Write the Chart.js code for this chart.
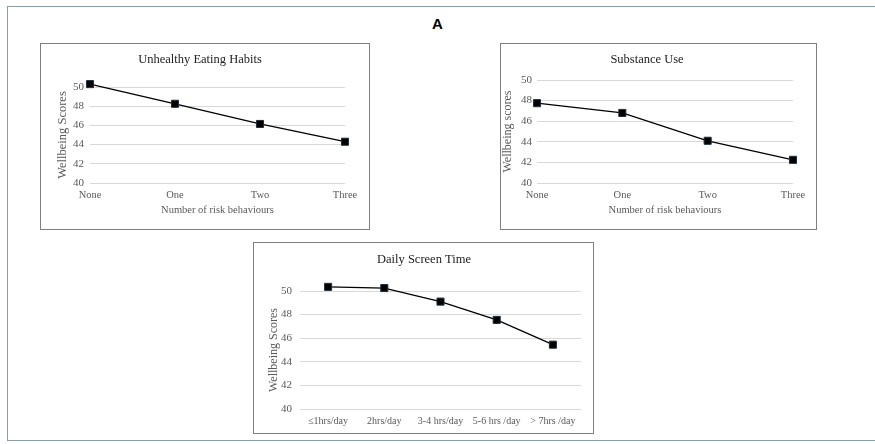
<!DOCTYPE html>
<html>
<head>
<meta charset="utf-8">
<script src="https://cdn.jsdelivr.net/npm/chart.js@4"></script>
<style>
  body { margin: 0; background: #fff; width: 875px; height: 444px; overflow: hidden; position: relative; }
  #frame { position: absolute; left: 7px; top: 6px; width: 880px; height: 435px; border: 1.5px solid #8a9cab; box-sizing: border-box; }
  #bigTitle { position: absolute; left: 0; width: 875px; top: 15px; text-align: center; font: bold 15px "Liberation Sans", Arial, sans-serif; color: #000; }
  .box { position: absolute; border: 1px solid #7f7f7f; background: #fff; }
  .box canvas { display: block; }
</style>
</head>
<body>
<div id="frame"></div>
<div id="bigTitle">A</div>
<div class="box" style="left:40px;top:43px;width:328px;height:185px;"><canvas id="c1" width="328" height="185"></canvas></div>
<div class="box" style="left:500px;top:43px;width:315px;height:185px;"><canvas id="c2" width="315" height="185"></canvas></div>
<div class="box" style="left:253px;top:242px;width:339px;height:190px;"><canvas id="c3" width="339" height="190"></canvas></div>
<script>
// data
var riskLabels = ['None', 'One', 'Two', 'Three'];
var eatingScores = [50.3, 48.25, 46.15, 44.3];
var substanceScores = [47.75, 46.8, 44.1, 42.25];
var screenLabels = ['\u22641hrs/day', '2hrs/day', '3-4 hrs/day', '5-6 hrs /day', '> 7hrs /day'];
var screenScores = [50.35, 50.25, 49.1, 47.55, 45.45];

var serif = '"Liberation Serif", "Times New Roman", serif';
var grey = '#595959';

function makeChart(id, title, labels, values, opts) {
  var ctx = document.getElementById(id).getContext('2d');
  return new Chart(ctx, {
    type: 'line',
    data: {
      labels: labels,
      datasets: [{
        data: values,
        borderColor: '#000',
        borderWidth: 1.3,
        pointStyle: 'rect',
        pointRadius: 5,
        pointBackgroundColor: '#000',
        pointBorderColor: '#1f2d3d',
        pointBorderWidth: 1,
        tension: 0,
        clip: false
      }]
    },
    options: {
      responsive: false,
      animation: false,
      events: [],
      layout: { padding: opts.padding },
      plugins: {
        legend: { display: false },
        tooltip: { enabled: false },
        title: {
          display: true,
          text: title,
          color: '#222',
          font: { family: serif, size: 12.5, weight: 'normal' },
          padding: opts.titlePad
        }
      },
      scales: {
        x: {
          offset: opts.offset,
          grid: { display: false, drawTicks: false },
          border: { display: false },
          ticks: { color: grey, font: { family: serif, size: opts.xTick }, padding: 6, maxRotation: 0, autoSkip: false },
          title: {
            display: !!opts.xTitle,
            text: opts.xTitle || '',
            color: grey,
            font: { family: serif, size: 10.5 },
            padding: { top: 2, bottom: 12 }
          },
          afterFit: function(s) { s.height = opts.xHeight; }
        },
        y: {
          min: 40,
          max: 50,
          grid: { color: '#d9d9d9', drawTicks: false, lineWidth: 1 },
          border: { display: false },
          ticks: { stepSize: 2, color: grey, font: { family: serif, size: 11 }, padding: opts.yPad },
          title: {
            display: true,
            text: opts.yTitle,
            color: grey,
            font: { family: serif, size: opts.ySize },
            padding: { top: 0, bottom: 2 }
          },
          afterFit: function(s) { s.width = opts.yWidth; }
        }
      }
    }
  });
}

makeChart('c1', 'Unhealthy Eating Habits', riskLabels, eatingScores, {
  padding: { left: 14, right: 24, top: 0, bottom: 0 },
  titlePad: { top: 8, bottom: 20 },
  offset: false, xTitle: 'Number of risk behaviours', xHeight: 46, xTick: 10.5,
  yTitle: 'Wellbeing Scores', yWidth: 35, yPad: 6, ySize: 12.5
});

makeChart('c2', 'Substance Use', riskLabels, substanceScores, {
  padding: { left: 0, right: 23, top: 0, bottom: 0 },
  titlePad: { top: 8, bottom: 13 },
  offset: false, xTitle: 'Number of risk behaviours', xHeight: 46, xTick: 10.5,
  yTitle: 'Wellbeing scores', yWidth: 36, yPad: 5, ySize: 12
});

makeChart('c3', 'Daily Screen Time', screenLabels, screenScores, {
  padding: { left: 13, right: 12, top: 0, bottom: 0 },
  titlePad: { top: 9, bottom: 24 },
  offset: true, xTitle: '', xHeight: 24, xTick: 10,
  yTitle: 'Wellbeing Scores', yWidth: 33, yPad: 8, ySize: 12
});
</script>
</body>
</html>
